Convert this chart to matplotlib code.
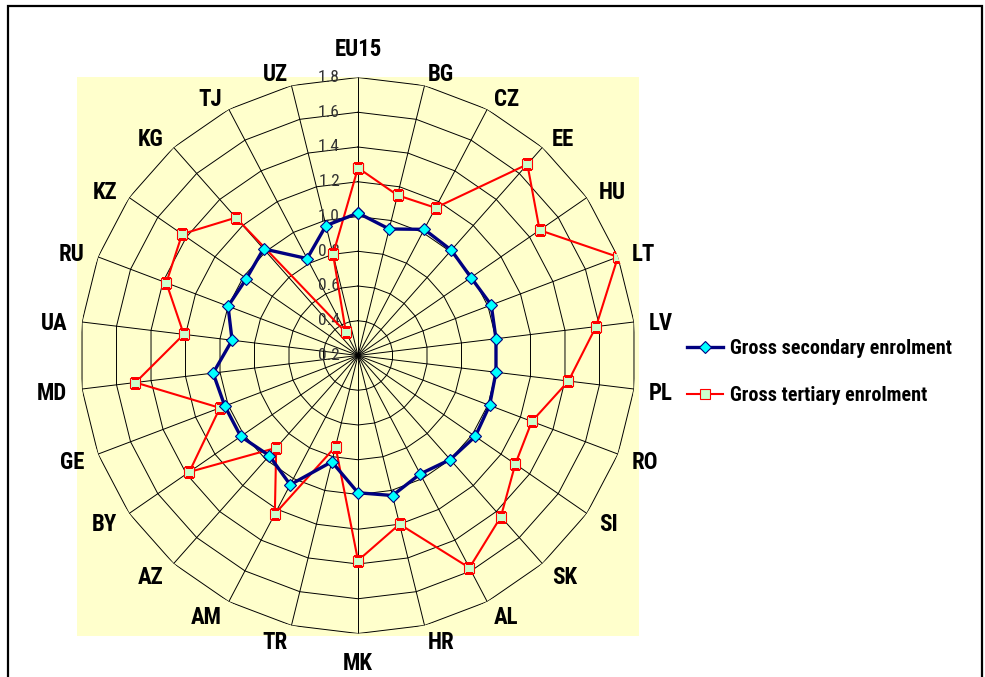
import numpy as np
import matplotlib
matplotlib.use("Agg")
import matplotlib.pyplot as plt
from matplotlib import font_manager
from matplotlib.patches import Rectangle

paesi = ["EU15", "BG", "CZ", "EE", "HU", "LT", "LV", "PL", "RO", "SI", "SK",
         "AL", "HR", "MK", "TR", "AM", "AZ", "BY", "GE", "MD", "UA", "RU",
         "KZ", "KG", "TJ", "UZ"]

secondaria = [1.02, 0.95, 1.02, 1.01, 0.99, 1.02, 1.00, 1.00, 1.01, 1.02, 1.00,
              0.97, 1.03, 0.99, 0.83, 1.04, 0.97, 1.02, 1.02, 1.04, 0.93, 1.00,
              0.98, 1.02, 0.83, 0.97]

terziaria = [1.28, 1.15, 1.16, 1.67, 1.47, 1.80, 1.58, 1.42, 1.27, 1.30, 1.44,
             1.58, 1.20, 1.38, 0.74, 1.23, 0.91, 1.38, 1.05, 1.49, 1.21, 1.38,
             1.43, 1.26, 0.35, 0.80]

anelli = [0.2, 0.4, 0.6, 0.8, 1.0, 1.2, 1.4, 1.6, 1.8]
etichette_anelli = ["0.2", "0.4", "0.6", "0.8", "1.0", "1.2", "1.4", "1.6", "1.8"]

# un font stretto tipo Arial Narrow, se c'e'
nomi = set(font_manager.get_font_names())
font = "Liberation Sans"
for f in ["Liberation Sans Narrow", "Nimbus Sans Narrow", "Arial Narrow",
          "Roboto Condensed", "Fira Sans Condensed"]:
    if f in nomi:
        font = f
        break
plt.rcParams["font.family"] = [font, "DejaVu Sans"]

W, H = 985, 677
fig = plt.figure(figsize=(W / 100, H / 100), dpi=100)

# sfondo giallino dell'area del grafico e cornice esterna
fig.add_artist(Rectangle((77 / W, 1 - 636 / H), 562 / W, 559 / H,
                         transform=fig.transFigure, facecolor="#FFFFCC",
                         edgecolor="none", zorder=-1))
fig.add_artist(Rectangle((7.5 / W, -0.05), 974 / W, 1.05 - 6 / H,
                         transform=fig.transFigure, facecolor="none",
                         edgecolor="black", lw=1.6, zorder=10))

cx, cy, R = 358, 355.5, 278
ax = fig.add_axes([(cx - R) / W, (H - cy - R) / H, 2 * R / W, 2 * R / H],
                  projection="polar")
ax.patch.set_visible(False)
ax.spines["polar"].set_visible(False)
ax.set_theta_zero_location("N")
ax.set_theta_direction(-1)
ax.grid(False)
ax.set_xticks([])
ax.set_yticks([])
ax.set_ylim(anelli[0], anelli[-1])

theta = np.arange(len(paesi)) * 2 * np.pi / len(paesi)
theta_c = np.append(theta, theta[0])

# ragnatela
for r in anelli[1:]:
    ax.plot(theta_c, [r] * len(theta_c), color="black", lw=0.7, zorder=1)
for t in theta:
    ax.plot([t, t], [anelli[0], anelli[-1]], color="black", lw=0.7, zorder=1)

for r, lab in zip(anelli, etichette_anelli):
    ax.annotate(lab, xy=(0, r), xytext=(-13, 0), textcoords="offset points",
                ha="right", va="center", fontsize=12.5, color="#333333",
                zorder=2, annotation_clip=False)

for t, nome in zip(theta, paesi):
    s = np.sin(t)
    if abs(s) < 1e-6:
        ax.annotate(nome, xy=(t, 1.967), xytext=(0, -1), textcoords="offset points",
                    ha="center", va="center", fontsize=16.5, fontweight="bold",
                    annotation_clip=False)
    else:
        ax.annotate(nome, xy=(t, 1.885), xytext=(0, -2.2), textcoords="offset points",
                    ha="left" if s > 0 else "right", va="center",
                    fontsize=16.5, fontweight="bold", annotation_clip=False)

l1, = ax.plot(theta_c, secondaria + secondaria[:1], color="#000080", lw=2.4,
              marker="D", ms=5.8, mfc="#00FFFF", mec="#000080", mew=0.8,
              zorder=4, label="Gross secondary enrolment")
l2, = ax.plot(theta_c, terziaria + terziaria[:1], color="#FF0000", lw=1.5,
              marker="s", ms=6.8, mfc="#CCFFCC", mec="#FF0000", mew=0.8,
              zorder=3, label="Gross tertiary enrolment")

fig.legend(handles=[l1, l2], loc="center left",
           bbox_to_anchor=(687 / W, 1 - 372 / H), frameon=False, borderpad=0,
           borderaxespad=0, handlelength=1.8, handletextpad=0.35,
           labelspacing=1.35, numpoints=1,
           prop={"weight": "bold", "size": 14.5})

fig.savefig("out.png", dpi=100)
